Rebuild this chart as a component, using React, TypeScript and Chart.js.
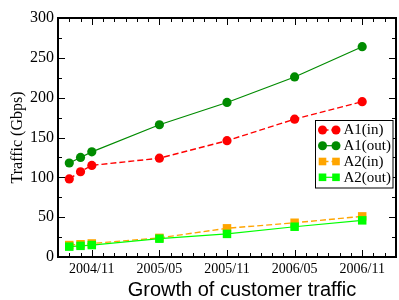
import React, { useEffect, useRef } from 'react';
import { Chart, registerables } from 'chart.js';

Chart.register(...registerables);

// ---- data ----
const months = ['2004/09', '2004/10', '2004/11', '2005/05', '2005/11', '2006/05', '2006/11'];
const a1In = [98, 107, 115, 124, 146, 173, 195];
const a1Out = [118, 125, 132, 166, 194, 226, 264];
const a2In = [15, 16, 17, 24, 36, 43, 51];
const a2Out = [13, 14, 15, 23, 29, 38, 46];
const xTickLabels = ['2004/11', '2005/05', '2005/11', '2006/05', '2006/11'];
const xRange = ['2004/08', '2007/02'];
const yTickValues = [0, 50, 100, 150, 200, 250, 300];
const seriesLabels = ['A1(in)', 'A1(out)', 'A2(in)', 'A2(out)'];
const xTitle = 'Growth of customer traffic';
const yTitle = 'Traffic (Gbps)';

const toM = (s: string) => {
  const [y, m] = s.split('/').map(Number);
  return (y - 2004) * 12 + (m - 1);
};
const fromM = (v: number) => {
  const y = 2004 + Math.floor(v / 12);
  const m = (v % 12) + 1;
  return `${y}/${m < 10 ? '0' + m : m}`;
};
const xTickVals = xTickLabels.map(toM);

const SERIF = "'Liberation Serif', 'DejaVu Serif', serif";
const SANS = "'Liberation Sans', Arial, sans-serif";

const styles = [
  { color: '#ff0000', dash: [6, 3], width: 1.4, point: 'circle', radius: 4.6, order: 3 },
  { color: '#008b00', dash: [], width: 1.2, point: 'circle', radius: 4.6, order: 2 },
  { color: '#ffa500', dash: [6, 3], width: 1.4, point: 'rect', radius: 6, order: 1 },
  { color: '#00ff00', dash: [], width: 1.2, point: 'rect', radius: 6, order: 0 },
];

const framePlugin = {
  id: 'frame',
  afterDraw(chart: any) {
    const { ctx, chartArea: a, scales } = chart;
    const x = scales.x;
    const y = scales.y;
    ctx.save();
    ctx.strokeStyle = '#000';
    ctx.lineWidth = 1;
    const line = (x1: number, y1: number, x2: number, y2: number) => {
      ctx.beginPath();
      ctx.moveTo(x1, y1);
      ctx.lineTo(x2, y2);
      ctx.stroke();
    };
    for (let v = Math.ceil(x.min); v <= x.max; v++) {
      const px = Math.round(x.getPixelForValue(v)) + 0.5;
      const L = xTickVals.includes(v) ? 7 : 4;
      line(px, a.bottom, px, a.bottom - L);
      line(px, a.top, px, a.top + L);
    }
    for (let v = 0; v <= 300; v += 25) {
      const py = Math.round(y.getPixelForValue(v)) + 0.5;
      const L = v % 50 === 0 ? 7 : 4;
      line(a.left, py, a.left + L, py);
      line(a.right, py, a.right - L, py);
    }
    ctx.lineWidth = 2;
    ctx.strokeRect(a.left, a.top, a.right - a.left, a.bottom - a.top);

    // x title
    ctx.fillStyle = '#000';
    ctx.font = `20px ${SANS}`;
    ctx.textAlign = 'center';
    ctx.textBaseline = 'alphabetic';
    ctx.fillText(xTitle, 242, 296);

    // legend
    const lx = 315.5, ly = 120.5, lw = 77.5, lh = 67.5;
    ctx.fillStyle = '#fff';
    ctx.fillRect(lx, ly, lw, lh);
    ctx.lineWidth = 1;
    ctx.strokeStyle = '#000';
    ctx.strokeRect(lx, ly, lw, lh);
    const rows = [130, 145.7, 161.5, 177.3];
    chart.data.datasets.forEach((ds: any, i: number) => {
      const st = styles[i];
      const cy = rows[i];
      const x1 = 322.5, x2 = 336;
      ctx.strokeStyle = st.color;
      ctx.lineWidth = st.width;
      ctx.setLineDash(st.dash);
      line(x1, cy, x2, cy);
      ctx.setLineDash([]);
      ctx.fillStyle = st.color;
      [x1, x2].forEach((cx) => {
        if (st.point === 'circle') {
          ctx.beginPath();
          ctx.arc(cx, cy, 4.5, 0, Math.PI * 2);
          ctx.fill();
        } else {
          ctx.fillRect(cx - 3.8, cy - 3.8, 7.6, 7.6);
        }
      });
      ctx.fillStyle = '#000';
      ctx.font = `15px ${SERIF}`;
      ctx.textAlign = 'left';
      ctx.textBaseline = 'middle';
      ctx.fillText(ds.label, 343.5, cy + 0.5);
    });
    ctx.restore();
  },
};

export default function App() {
  const ref = useRef<HTMLCanvasElement>(null);
  useEffect(() => {
    const series = [a1In, a1Out, a2In, a2Out];
    const chart = new Chart(ref.current!, {
      type: 'line',
      data: {
        datasets: series.map((vals, i) => ({
          label: seriesLabels[i],
          data: months.map((m, j) => ({ x: toM(m), y: vals[j] })),
          borderColor: styles[i].color,
          backgroundColor: styles[i].color,
          borderWidth: styles[i].width,
          borderDash: styles[i].dash,
          pointStyle: styles[i].point as any,
          pointRadius: styles[i].radius,
          pointBorderWidth: 0,
          pointBackgroundColor: styles[i].color,
          tension: 0,
          fill: false,
          order: styles[i].order,
        })),
      },
      options: {
        animation: false,
        responsive: false,
        devicePixelRatio: 1,
        layout: { padding: { left: 0, top: 18, right: 1.4, bottom: 0 } },
        plugins: { legend: { display: false }, tooltip: { enabled: false } },
        scales: {
          x: {
            type: 'linear',
            min: toM(xRange[0]),
            max: toM(xRange[1]),
            grid: { display: false, drawTicks: false },
            border: { display: false },
            afterBuildTicks: (s: any) => {
              s.ticks = xTickVals.map((v) => ({ value: v }));
            },
            afterFit: (s: any) => {
              s.height = 43;
            },
            ticks: {
              autoSkip: false,
              maxRotation: 0,
              padding: 4,
              color: '#000',
              font: { family: SERIF, size: 14 },
              callback: (v: any) => fromM(Number(v)),
            },
          },
          y: {
            min: 0,
            max: 300,
            grid: { display: false, drawTicks: false },
            border: { display: false },
            afterBuildTicks: (s: any) => {
              s.ticks = yTickValues.map((v) => ({ value: v }));
            },
            afterFit: (s: any) => {
              s.width = 58;
            },
            ticks: {
              padding: 4,
              color: '#000',
              font: { family: SERIF, size: 16 },
            },
            title: {
              display: true,
              text: yTitle,
              color: '#000',
              font: { family: SERIF, size: 16 },
              padding: { top: 8, bottom: 0 },
            },
          },
        },
      },
      plugins: [framePlugin],
    });
    return () => chart.destroy();
  }, []);
  return (
    <div style={{ position: 'fixed', left: 0, top: 0, width: 399, height: 300, overflow: 'hidden', background: '#fff' }}>
      <canvas ref={ref} width={402} height={300} style={{ width: 402, height: 300, display: 'block' }} />
    </div>
  );
}
